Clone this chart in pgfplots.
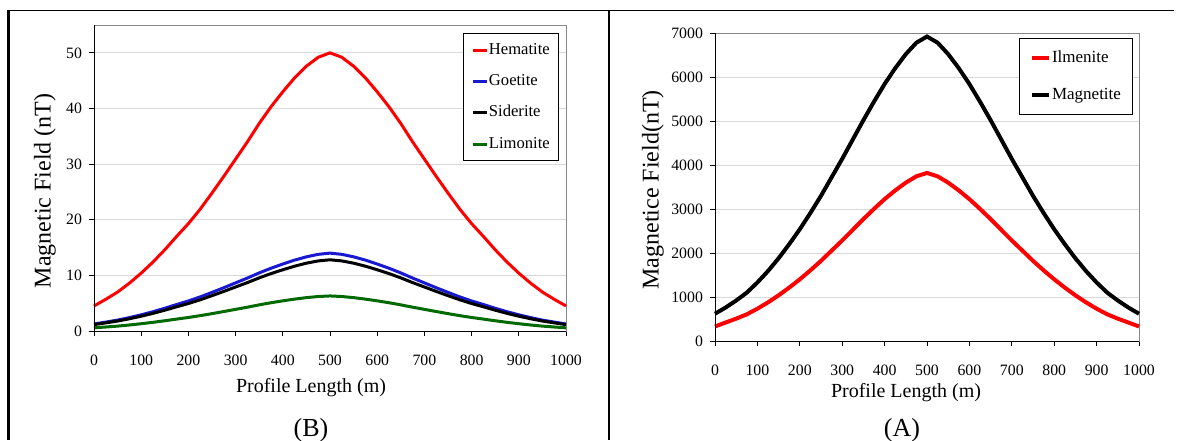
\documentclass[border=0pt]{standalone}
\usepackage{fontspec}
\setmainfont{Liberation Serif}
\usepackage{pgfplots}
\usepackage{pgfplotstable}
\pgfplotsset{compat=1.18}

\definecolor{boxgray}{RGB}{134,134,134}
\definecolor{gridgray}{RGB}{217,217,217}
\definecolor{cRed}{RGB}{255,0,0}
\definecolor{cBlue}{RGB}{25,25,210}
\definecolor{cGreen}{RGB}{0,105,0}

\pgfplotstableread{
x hem goe sid lim
0 4.5 1.26 1.15 0.57
25 5.7 1.60 1.46 0.72
50 7.0 1.96 1.79 0.88
75 8.6 2.41 2.20 1.08
100 10.4 2.91 2.66 1.31
125 12.4 3.47 3.17 1.56
150 14.6 4.09 3.74 1.84
175 17.0 4.76 4.35 2.14
200 19.3 5.40 4.94 2.43
225 21.9 6.13 5.61 2.76
250 24.8 6.94 6.35 3.12
275 27.8 7.78 7.12 3.50
300 30.9 8.65 7.91 3.89
325 34.0 9.52 8.70 4.28
350 37.3 10.44 9.55 4.70
375 40.3 11.28 10.32 5.08
400 43.0 12.04 11.01 5.42
425 45.5 12.74 11.65 5.73
450 47.6 13.33 12.19 6.00
475 49.2 13.78 12.60 6.20
500 50.0 14.00 12.80 6.30
525 49.2 13.78 12.60 6.20
550 47.6 13.33 12.19 6.00
575 45.5 12.74 11.65 5.73
600 43.0 12.04 11.01 5.42
625 40.3 11.28 10.32 5.08
650 37.3 10.44 9.55 4.70
675 34.0 9.52 8.70 4.28
700 30.9 8.65 7.91 3.89
725 27.8 7.78 7.12 3.50
750 24.8 6.94 6.35 3.12
775 21.9 6.13 5.61 2.76
800 19.3 5.40 4.94 2.43
825 17.0 4.76 4.35 2.14
850 14.6 4.09 3.74 1.84
875 12.4 3.47 3.17 1.56
900 10.4 2.91 2.66 1.31
925 8.6 2.41 2.20 1.08
950 7.0 1.96 1.79 0.88
975 5.7 1.60 1.46 0.72
1000 4.5 1.26 1.15 0.57
}\leftdata

\pgfplotstableread{
x ilm mag
0 330 620
25 420 760
50 508 920
75 607 1100
100 734 1330
125 878 1590
150 1038 1880
175 1214 2200
200 1402 2540
225 1606 2910
250 1822 3300
275 2054 3720
300 2285 4140
325 2528 4580
350 2771 5020
375 3003 5440
400 3224 5840
425 3422 6200
450 3599 6520
475 3743 6780
500 3820 6920
525 3743 6780
550 3599 6520
575 3422 6200
600 3224 5840
625 3003 5440
650 2771 5020
675 2528 4580
700 2285 4140
725 2054 3720
750 1822 3300
775 1606 2910
800 1402 2540
825 1214 2200
850 1038 1880
875 878 1590
900 734 1330
925 607 1100
950 508 920
975 420 760
1000 330 620
}\rightdata

\pgfplotsset{
  panel/.style={
    scale only axis, anchor=south west,
    axis line style={draw=boxgray, line width=0.5pt},
    tick align=outside, major tick length=2.5pt,
    tick style={black, line width=0.5pt},
    tick pos=left,
    xmin=0, xmax=1000,
    xtick={0,100,...,1000},
    ymajorgrids, grid style={gridgray, line width=0.5pt},
    tick label style={font=\fontsize{7.9}{9}\selectfont},
    /pgf/number format/assume math mode=true,
    /pgf/number format/set thousands separator={},
    xticklabel style={yshift=-6pt},
    clip=false,
    legend cell align=left,
  }
}

\begin{document}
\begin{tikzpicture}[x=1pt,y=1pt]
\path[use as bounding box] (0,0) rectangle (590,220);
\draw[line width=0.8pt] (4,214.75) -- (587,214.75);
\draw[line width=1.2pt] (4.3,214.75) -- (4.3,0);
\draw[line width=1.2pt] (304.5,214.75) -- (304.5,0);

\begin{axis}[panel, at={(47pt,54.5pt)}, width=236pt, height=153pt,
  ymin=0, ymax=55, ytick={0,10,...,50},
  legend image code/.code={\draw[#1] (0pt,0pt) -- (7pt,0pt);},
  legend style={at={(0.985,0.974)}, anchor=north east, draw=black, line width=0.5pt,
    font=\fontsize{8.3}{9}\selectfont, row sep=8pt, inner xsep=4pt, inner ysep=4.5pt,
    nodes={inner sep=0.3pt}},
  ]
  \addplot[cRed, line width=1.5pt] table[x=x,y=hem] {\leftdata};
  \addlegendentry{Hematite}
  \addplot[cBlue, line width=1.5pt] table[x=x,y=goe] {\leftdata};
  \addlegendentry{Goetite}
  \addplot[black, line width=1.5pt] table[x=x,y=sid] {\leftdata};
  \addlegendentry{Siderite}
  \addplot[cGreen, line width=1.5pt] table[x=x,y=lim] {\leftdata};
  \addlegendentry{Limonite}
  \draw[black, line width=0.5pt] (rel axis cs:0,1) -- (rel axis cs:0,0) -- (rel axis cs:1,0);
\end{axis}

\begin{axis}[panel, at={(357.5pt,49.5pt)}, width=212pt, height=154pt,
  ymin=0, ymax=7000, ytick={0,1000,...,7000},
  legend image code/.code={\draw[#1] (0pt,0pt) -- (8.5pt,0pt);},
  legend style={at={(0.986,0.984)}, anchor=north east, draw=black, line width=0.5pt,
    font=\fontsize{8.5}{9}\selectfont, row sep=10.5pt, inner xsep=5.5pt, inner ysep=6pt,
    nodes={inner sep=0.3pt}},
  ]
  \addplot[cRed, line width=2pt] table[x=x,y=ilm] {\rightdata};
  \addlegendentry{Ilmenite}
  \addplot[black, line width=2pt] table[x=x,y=mag] {\rightdata};
  \addlegendentry{Magnetite}
  \draw[black, line width=0.5pt] (rel axis cs:0,1) -- (rel axis cs:0,0) -- (rel axis cs:1,0);
\end{axis}

\node[font=\fontsize{10}{12}\selectfont] at (155.5,26) {Profile Length (m)};
\node[font=\fontsize{10}{12}\selectfont] at (453,23.5) {Profile Length (m)};
\node[font=\fontsize{12}{14}\selectfont, rotate=90] at (22.5,124.5) {Magnetic Field (nT)};
\node[font=\fontsize{12}{14}\selectfont, rotate=90] at (326.5,125) {Magnetice Field(nT)};
\node[font=\fontsize{13}{15}\selectfont] at (155.5,5) {(B)};
\node[font=\fontsize{13}{15}\selectfont] at (451,5) {(A)};
\end{tikzpicture}
\end{document}
